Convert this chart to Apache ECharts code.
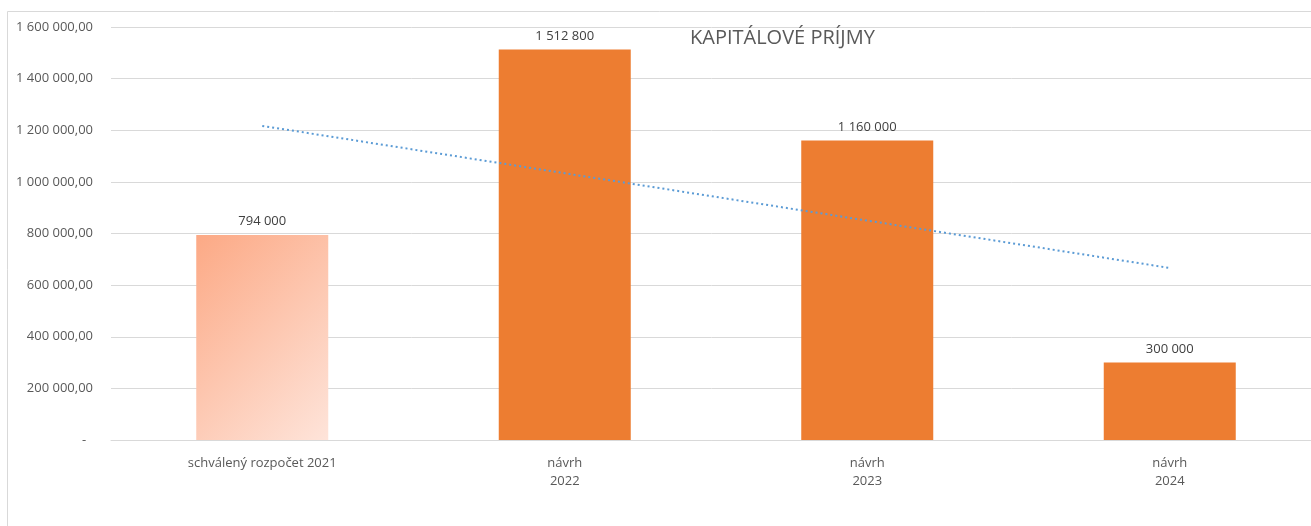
<!DOCTYPE html>
<html>
<head>
<meta charset="utf-8">
<script src="https://cdn.jsdelivr.net/npm/echarts@6/dist/echarts.min.js"></script>
<style>
  html, body { margin: 0; padding: 0; background: #fff; }
  #main { width: 1311px; height: 526px; }
</style>
</head>
<body>
<div id="main"></div>
<script>
// kategorie a hodnoty
var categories = ['schválený rozpočet 2021', 'návrh\n2022', 'návrh\n2023', 'návrh\n2024'];
var values = [794000, 1512800, 1160000, 300000];
// lineární trend
var trendValues = [1216900, 1033400, 850000, 666500];
var yTicks = [0, 200000, 400000, 600000, 800000, 1000000, 1200000, 1400000, 1600000];

function fmtSpaces(v) {
  return String(Math.round(v)).replace(/\B(?=(\d{3})+(?!\d))/g, ' ');
}

var chart = echarts.init(document.getElementById('main'));

var barData = values.map(function (v, i) {
  if (i === 0) {
    // přechod pod úhlem 45° (šířka sloupce 132, výška ~205 px)
    return {
      value: v,
      itemStyle: {
        color: new echarts.graphic.LinearGradient(0, 0, 1.28, 0.82, [
          { offset: 0, color: '#FCA985' },
          { offset: 1, color: '#FEE4DA' }
        ])
      }
    };
  }
  return v;
});

var option = {
  backgroundColor: '#ffffff',
  textStyle: { fontFamily: 'Open Sans' },
  title: {
    text: 'KAPITÁLOVÉ PRÍJMY',
    left: 685,
    top: 23,
    textStyle: { color: '#595959', fontSize: 20, fontWeight: 'normal', fontFamily: 'Open Sans' }
  },
  graphic: [
    {
      type: 'rect',
      shape: { x: 7.5, y: 11.5, width: 1400, height: 600 },
      style: { fill: null, stroke: '#D9D9D9', lineWidth: 1 },
      silent: true
    }
  ],
  grid: { left: 111, width: 1210, top: 27, bottom: 86, outerBoundsMode: 'none', containLabel: false },
  xAxis: [
    {
      type: 'category',
      data: categories,
      axisTick: { show: false },
      axisLine: { lineStyle: { color: '#D9D9D9', width: 1 } },
      axisLabel: { color: '#595959', fontSize: 13, lineHeight: 18, margin: 14 }
    }
  ],
  yAxis: [
    {
      type: 'value',
      min: yTicks[0],
      max: yTicks[yTicks.length - 1],
      interval: 200000,
      axisLine: { show: false },
      axisTick: { show: false },
      splitLine: { lineStyle: { color: '#D9D9D9', width: 1 } },
      axisLabel: {
        color: '#595959',
        fontSize: 13,
        margin: 18,
        formatter: function (v) {
          if (v === 0) return '-  ';
          return fmtSpaces(v) + ',00';
        }
      }
    }
  ],
  series: [
    {
      type: 'bar',
      barWidth: 132,
      data: barData,
      itemStyle: { color: '#ED7D31' },
      label: {
        show: true,
        position: 'top',
        distance: 7,
        color: '#404040',
        fontSize: 13,
        formatter: function (p) { return fmtSpaces(p.value); }
      },
      z: 2
    },
    {
      type: 'line',
      data: trendValues,
      symbol: 'none',
      silent: true,
      lineStyle: { color: '#5B9BD5', width: 2, type: [2, 3] },
      z: 3
    }
  ]
};

chart.setOption(option);
</script>
</body>
</html>
